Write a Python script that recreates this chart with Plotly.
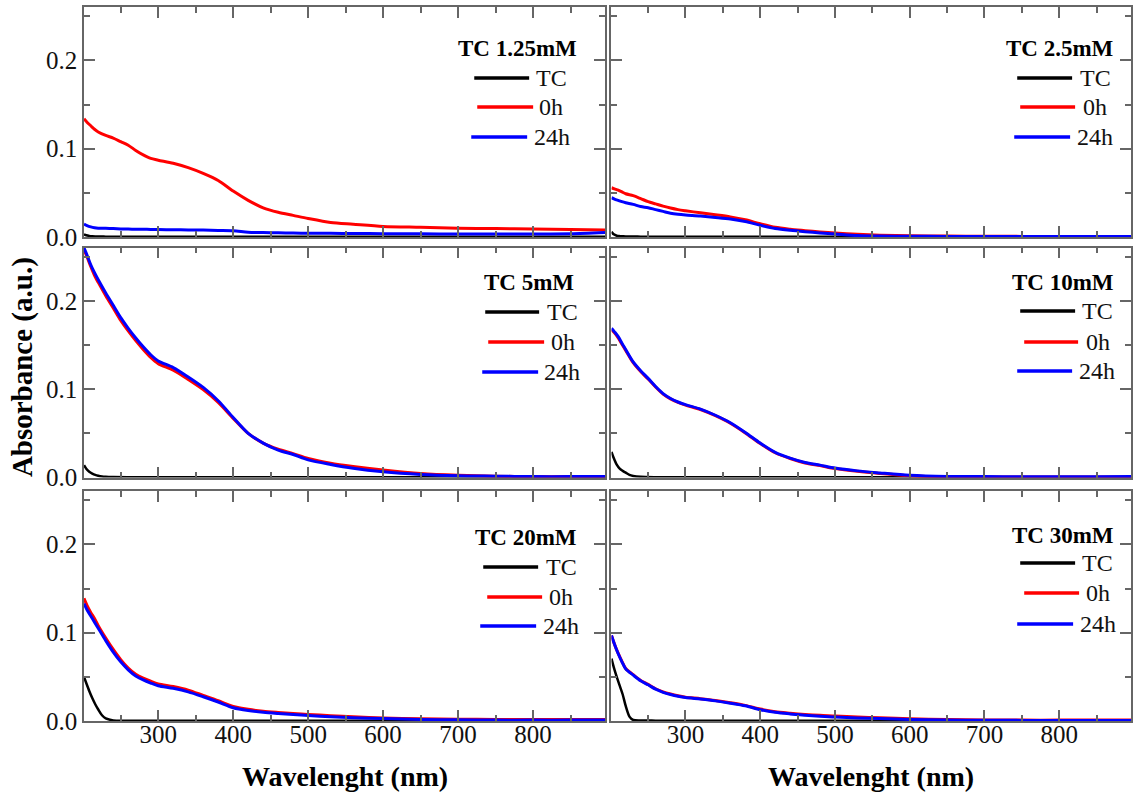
import plotly.graph_objects as go
from plotly.subplots import make_subplots

# ---------------- data ----------------
WL = [201, 205, 210, 215, 220, 230, 240, 250, 260, 270, 280, 290, 300, 320, 340, 360,
      380, 400, 420, 440, 460, 480, 500, 530, 560, 600, 650, 700, 750, 800, 850, 896]
WL_TC = [201, 204, 208, 212, 216, 220, 225, 230, 240, 260, 300, 400, 500, 600, 700, 800, 896]

TITLES = ["TC 1.25mM", "TC 2.5mM", "TC 5mM", "TC 10mM", "TC 20mM", "TC 30mM"]
SERIES_NAMES = ["TC", "0h", "24h"]

TC_125 = [0.003, 0.002, 0.0012, 0.0008, 0.0006, 0.0005, 0.0005, 0.0004, 0.0004, 0.0004, 0.0003, 0.0003, 0.0003, 0.0003, 0.0003, 0.0003, 0.0003]
H0_125 = [0.134, 0.130, 0.126, 0.122, 0.119, 0.115, 0.112, 0.108, 0.104, 0.098, 0.093, 0.089, 0.087, 0.0835, 0.0785, 0.072,
          0.064, 0.052, 0.0415, 0.033, 0.028, 0.0245, 0.021, 0.0165, 0.0145, 0.012, 0.011, 0.010, 0.0095, 0.009, 0.0085, 0.008]
H24_125 = [0.0147, 0.013, 0.0115, 0.0105, 0.010, 0.0098, 0.0095, 0.0092, 0.009, 0.0088, 0.0087, 0.0086, 0.0085, 0.0082, 0.008, 0.0078,
           0.0075, 0.0072, 0.0055, 0.005, 0.0047, 0.0045, 0.0043, 0.0042, 0.004, 0.0038, 0.0036, 0.0034, 0.0034, 0.0034, 0.0036, 0.005]

TC_25 = [0.006, 0.003, 0.0015, 0.001, 0.0008, 0.0006, 0.0005, 0.0005, 0.0004, 0.0004, 0.0004, 0.0003, 0.0003, 0.0003, 0.0003, 0.0003, 0.0003]
H0_25 = [0.0558, 0.0545, 0.053, 0.051, 0.049, 0.0468, 0.0435, 0.040, 0.0375, 0.035, 0.0328, 0.031, 0.0297, 0.0274, 0.0252, 0.0228,
         0.0195, 0.015, 0.011, 0.0088, 0.0072, 0.0057, 0.0045, 0.0031, 0.002, 0.0013, 0.001, 0.0008, 0.0007, 0.0007, 0.0007, 0.0007]
H24_25 = [0.0445, 0.043, 0.0415, 0.040, 0.0388, 0.037, 0.0345, 0.0332, 0.031, 0.029, 0.027, 0.0258, 0.025, 0.0238, 0.0222, 0.0204,
          0.0175, 0.0133, 0.0097, 0.0076, 0.006, 0.0046, 0.0035, 0.0018, 0.0011, 0.0008, 0.0007, 0.0007, 0.0007, 0.0007, 0.0007, 0.0007]

TC_5 = [0.014, 0.010, 0.0065, 0.0045, 0.003, 0.002, 0.0012, 0.0008, 0.0005, 0.0004, 0.0004, 0.0003, 0.0003, 0.0003, 0.0003, 0.0003, 0.0003]
H0_5 = [0.258, 0.250, 0.239, 0.229, 0.221, 0.206, 0.192, 0.178, 0.166, 0.155, 0.145, 0.136, 0.129, 0.1215, 0.111, 0.0995,
        0.085, 0.067, 0.050, 0.039, 0.032, 0.027, 0.0215, 0.0162, 0.0125, 0.0085, 0.0045, 0.0025, 0.0015, 0.001, 0.001, 0.001]
H24_5 = [0.260, 0.252, 0.241, 0.232, 0.224, 0.209, 0.195, 0.181, 0.169, 0.158, 0.148, 0.139, 0.132, 0.1245, 0.1138, 0.102,
         0.087, 0.068, 0.050, 0.039, 0.031, 0.026, 0.020, 0.0148, 0.0105, 0.0065, 0.0035, 0.002, 0.0015, 0.001, 0.001, 0.001]

TC_10 = [0.029, 0.022, 0.0145, 0.010, 0.0075, 0.0055, 0.003, 0.0018, 0.0008, 0.0004, 0.0003, 0.0003, 0.0003, 0.0003, 0.0003, 0.0003, 0.0003]
H0_10 = [0.167, 0.164, 0.158, 0.151, 0.144, 0.130, 0.120, 0.1115, 0.1025, 0.0945, 0.089, 0.085, 0.082, 0.077, 0.070, 0.0615,
         0.0505, 0.0385, 0.028, 0.0215, 0.0165, 0.0135, 0.0102, 0.007, 0.0046, 0.002, 0.0007, 0.0005, 0.0005, 0.0005, 0.0006, 0.0007]
H24_10 = [0.169, 0.165, 0.1595, 0.152, 0.145, 0.131, 0.121, 0.1123, 0.103, 0.095, 0.0895, 0.0855, 0.0825, 0.0775, 0.0705, 0.062,
          0.051, 0.039, 0.0285, 0.022, 0.017, 0.014, 0.0107, 0.0075, 0.0052, 0.0025, 0.0012, 0.001, 0.0009, 0.0009, 0.0009, 0.001]

TC_20 = [0.050, 0.043, 0.034, 0.026, 0.019, 0.013, 0.0065, 0.003, 0.0007, 0.0004, 0.0003, 0.0003, 0.0003, 0.0003, 0.0003, 0.0003, 0.0003]
H0_20 = [0.139, 0.131, 0.123, 0.116, 0.108, 0.094, 0.081, 0.0695, 0.060, 0.053, 0.0485, 0.045, 0.042, 0.039, 0.035, 0.029,
         0.023, 0.0165, 0.0132, 0.011, 0.0097, 0.0086, 0.0075, 0.006, 0.0048, 0.0035, 0.0025, 0.002, 0.0018, 0.0017, 0.0017, 0.0017]
H24_20 = [0.133, 0.126, 0.119, 0.112, 0.105, 0.091, 0.078, 0.067, 0.058, 0.051, 0.0465, 0.043, 0.040, 0.037, 0.033, 0.0275,
          0.0215, 0.0150, 0.0118, 0.0098, 0.0085, 0.0074, 0.0063, 0.0048, 0.0037, 0.0027, 0.0018, 0.0013, 0.001, 0.001, 0.001, 0.0012]

TC_30 = [0.0706, 0.061, 0.050, 0.040, 0.030, 0.017, 0.005, 0.0012, 0.0006, 0.0004, 0.0003, 0.0003, 0.0003, 0.0003, 0.0003, 0.0003, 0.0003]
H0_30 = [0.097, 0.087, 0.0765, 0.0675, 0.0595, 0.0525, 0.046, 0.0415, 0.0365, 0.033, 0.0305, 0.0285, 0.027, 0.0253, 0.0233, 0.0207,
         0.0177, 0.0135, 0.0105, 0.0088, 0.0074, 0.0064, 0.0058, 0.0046, 0.0036, 0.0026, 0.0017, 0.0012, 0.001, 0.001, 0.001, 0.001]
H24_30 = [0.097, 0.087, 0.0762, 0.067, 0.059, 0.052, 0.0455, 0.041, 0.036, 0.0325, 0.030, 0.028, 0.0265, 0.0248, 0.0228, 0.0202,
          0.0172, 0.0128, 0.0098, 0.0080, 0.0066, 0.0054, 0.0044, 0.0035, 0.0028, 0.0018, 0.0010, 0.0008, 0.0007, 0.0007, 0.0007, 0.0007]

PANEL_DATA = [(TC_125, H0_125, H24_125), (TC_25, H0_25, H24_25), (TC_5, H0_5, H24_5),
              (TC_10, H0_10, H24_10), (TC_20, H0_20, H24_20), (TC_30, H0_30, H24_30)]

# ---------------- style / layout ----------------
W, H = 1134, 796
ML, MR, MT, MB = 84, 1, 7, 75
FONT = "Liberation Serif, DejaVu Serif, serif"
COLORS = ["#000000", "#ff0000", "#0000ff"]
WIDTHS = [2.5, 3, 3]
AXC = "#666666"

def px2x(px):
    return (px - ML) / (W - ML - MR)

def px2y(py):
    return (H - MB - py) / (H - MT - MB)

X_DOM = [[0.0, px2x(606)], [px2x(612.5), 1.0]]
Y_DOM = [[px2y(237), 1.0], [px2y(477.5), px2y(247.5)], [0.0, px2y(491)]]

fig = make_subplots(rows=3, cols=2)

for i, (tc, h0, h24) in enumerate(PANEL_DATA):
    r, c = i // 2 + 1, i % 2 + 1
    for k, (xs, ys) in enumerate([(WL_TC, tc), (WL, h0), (WL, h24)]):
        fig.add_trace(go.Scatter(x=xs, y=ys, mode="lines", name=SERIES_NAMES[k],
                                 line=dict(color=COLORS[k], width=WIDTHS[k], shape="spline", smoothing=0.8),
                                 showlegend=False, hoverinfo="skip"), row=r, col=c)

TICKFONT = dict(family=FONT, size=25, color="#111111")
for i in range(6):
    r, c = i // 2, i % 2
    suffix = "" if i == 0 else str(i + 1)
    fig.layout["xaxis" + suffix].update(
        domain=X_DOM[c], range=[201, 896], showline=True, linecolor=AXC, linewidth=1.5,
        mirror="allticks", ticks="inside", ticklen=11, tickwidth=1.5, tickcolor=AXC,
        tick0=0, dtick=100, showgrid=False, zeroline=False, ticklabelstandoff=-10,
        showticklabels=(r == 2), tickfont=TICKFONT,
        minor=dict(ticks="inside", ticklen=6, tickwidth=1.5, tickcolor=AXC, dtick=50, tick0=0, showgrid=False))
    fig.layout["yaxis" + suffix].update(
        domain=Y_DOM[r], range=[0, 0.2605], showline=True, linecolor=AXC, linewidth=1.5,
        mirror="allticks", ticks="inside", ticklen=11, tickwidth=1.5, tickcolor=AXC,
        tick0=0, dtick=0.1, tickformat=".1f", showgrid=False, zeroline=False,
        showticklabels=(c == 0), tickfont=TICKFONT,
        minor=dict(ticks="inside", ticklen=6, tickwidth=1.5, tickcolor=AXC, dtick=0.05, tick0=0, showgrid=False))

# ---------------- in-panel legends (pixel positions) ----------------
LEGENDS = [
    dict(title=(580, 48), items=[(475, 530, 535, 78), (478, 534, 538, 107), (472, 528, 533, 137)]),
    dict(title=(1118, 48), items=[(1019, 1074, 1080, 78), (1022, 1077, 1083, 107), (1016, 1072, 1077, 137)]),
    dict(title=(577, 283), items=[(486, 540, 546, 312), (489, 545, 550, 342), (483, 539, 543, 372)]),
    dict(title=(1118, 283), items=[(1022, 1077, 1082, 311), (1026, 1080, 1086, 342), (1019, 1074, 1079, 371)]),
    dict(title=(580, 537), items=[(484, 539, 545, 567), (488, 543, 548, 597), (481, 537, 542, 626)]),
    dict(title=(1118, 535), items=[(1022, 1077, 1082, 563), (1026, 1081, 1086, 593), (1019, 1075, 1080, 624)]),
]

annotations = []
shapes = []
for i, lg in enumerate(LEGENDS):
    tx, ty = lg["title"]
    annotations.append(dict(x=px2x(tx), y=px2y(ty), xref="paper", yref="paper", text="<b>%s</b>" % TITLES[i],
                            showarrow=False, xanchor="right", yanchor="middle",
                            font=dict(family=FONT, size=23, color="#000000")))
    for k, (x0, x1, xt, yy) in enumerate(lg["items"]):
        shapes.append(dict(type="line", xref="paper", yref="paper", x0=px2x(x0), x1=px2x(x1),
                           y0=px2y(yy), y1=px2y(yy), line=dict(color=COLORS[k], width=3.5)))
        annotations.append(dict(x=px2x(xt), y=px2y(yy), xref="paper", yref="paper", text=SERIES_NAMES[k],
                                showarrow=False, xanchor="left", yanchor="middle",
                                font=dict(family=FONT, size=24, color="#111111")))

# axis titles
annotations.append(dict(x=px2x(22), y=px2y(367), xref="paper", yref="paper", text="<b>Absorbance (a.u.)</b>",
                        textangle=-90, showarrow=False, xanchor="center", yanchor="middle",
                        font=dict(family=FONT, size=29, color="#000000")))
for c in range(2):
    annotations.append(dict(x=(X_DOM[c][0] + X_DOM[c][1]) / 2, y=px2y(776), xref="paper", yref="paper",
                            text="<b>Wavelenght (nm)</b>", showarrow=False, xanchor="center", yanchor="middle",
                            font=dict(family=FONT, size=28, color="#000000")))

fig.update_layout(width=W, height=H, margin=dict(l=ML, r=MR, t=MT, b=MB),
                  paper_bgcolor="white", plot_bgcolor="white", showlegend=False,
                  font=dict(family=FONT),
                  annotations=annotations, shapes=shapes)

fig.write_html("out.html", config={"displayModeBar": False},
               post_script="document.body.style.margin='0px';")
